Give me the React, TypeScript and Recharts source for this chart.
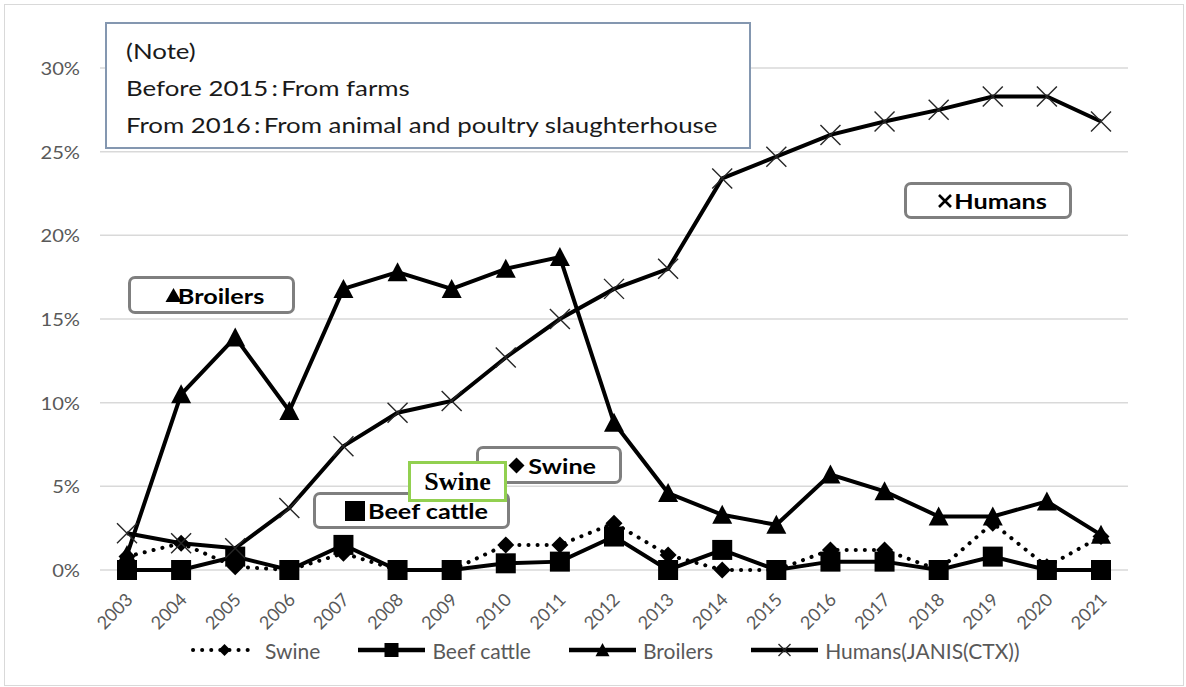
import { CartesianGrid, Legend, Line, LineChart, XAxis, YAxis } from "recharts";

const years = [
  "2003", "2004", "2005", "2006", "2007", "2008", "2009", "2010", "2011", "2012",
  "2013", "2014", "2015", "2016", "2017", "2018", "2019", "2020", "2021",
];
const swine = [0.8, 1.6, 0.2, 0, 1.0, 0, 0, 1.5, 1.5, 2.8, 0.9, 0, 0, 1.2, 1.2, 0, 2.8, 0.2, 2.0];
const beefCattle = [0, 0, 0.8, 0, 1.5, 0, 0, 0.4, 0.5, 2.0, 0, 1.2, 0, 0.5, 0.5, 0, 0.8, 0, 0];
const broilers = [0.9, 10.5, 13.9, 9.5, 16.8, 17.8, 16.8, 18.0, 18.7, 8.8, 4.6, 3.3, 2.7, 5.7, 4.7, 3.2, 3.2, 4.1, 2.1];
const humans = [2.2, 1.6, 1.3, 3.7, 7.4, 9.4, 10.1, 12.7, 15.0, 16.8, 18.0, 23.4, 24.7, 26.0, 26.8, 27.5, 28.3, 28.3, 26.8];
const yTicks = [0, 5, 10, 15, 20, 25, 30];
const noteLines = ["(Note)", "Before 2015\u2009:\u2009From farms", "From 2016\u2009:\u2009From animal and poultry slaughterhouse"];

const data = years.map((year, i) => ({
  year,
  swine: swine[i],
  beefCattle: beefCattle[i],
  broilers: broilers[i],
  humans: humans[i],
}));

const FONT = "Lato, 'Open Sans', sans-serif";
const GRAY = "#595959";

// marker shapes (prop names kept clear of the ones recharts passes to dots)
const Diamond = ({ cx, cy, size = 8 }: any) =>
  cx == null ? null : (
    <path d={`M${cx},${cy - size}L${cx + size},${cy}L${cx},${cy + size}L${cx - size},${cy}Z`} fill="#000" />
  );
const Square = ({ cx, cy, size = 10 }: any) =>
  cx == null ? null : <rect x={cx - size} y={cy - size} width={size * 2} height={size * 2} fill="#000" />;
const Triangle = ({ cx, cy, size = 10 }: any) =>
  cx == null ? null : (
    <path d={`M${cx},${cy - size}L${cx + size},${cy + size * 0.9}L${cx - size},${cy + size * 0.9}Z`} fill="#000" />
  );
const Cross = ({ cx, cy, size = 10, ink = "#262626", thick = 1.4 }: any) =>
  cx == null ? null : (
    <path
      d={`M${cx - size},${cy - size}L${cx + size},${cy + size}M${cx - size},${cy + size}L${cx + size},${cy - size}`}
      stroke={ink}
      strokeWidth={thick}
      fill="none"
    />
  );

const YearTick = ({ x, y, payload }: any) => (
  <g transform={`translate(${x + 2},${y + 18}) rotate(-45)`}>
    <text textAnchor="end" dominantBaseline="central" fill={GRAY} fontSize={18} fontFamily={FONT}>
      {payload.value}
    </text>
  </g>
);

const ValueTick = ({ x, y, payload }: any) => (
  <g transform={`translate(${x},${y}) scale(1.12,1)`}>
    <text textAnchor="end" dominantBaseline="central" fill={GRAY} fontSize={18} fontFamily={FONT}>
      {`${payload.value}%`}
    </text>
  </g>
);

const legendItems = [
  { name: "Swine", dashed: true, Marker: Diamond, size: 6 },
  { name: "Beef cattle", dashed: false, Marker: Square, size: 7 },
  { name: "Broilers", dashed: false, Marker: Triangle, size: 7 },
  { name: "Humans(JANIS(CTX))", dashed: false, Marker: Cross, size: 6 },
];

const LegendContent = () => (
  <div style={{ display: "flex", alignItems: "center", gap: 38, height: 30, paddingLeft: 151 }}>
    {legendItems.map(({ name, dashed, Marker, size }) => (
      <div key={name} style={{ display: "flex", alignItems: "center", gap: 7 }}>
        <svg width={67} height={20} style={{ display: "block" }}>
          <line
            x1={dashed ? 2 : 0}
            y1={10}
            x2={dashed ? 65 : 67}
            y2={10}
            stroke="#000"
            strokeWidth={dashed ? 4 : 4.5}
            strokeLinecap="round"
            strokeDasharray={dashed ? "0.1 9" : undefined}
          />
          <Marker cx={33.5} cy={10} size={size} />
        </svg>
        <span style={{ fontFamily: FONT, fontSize: 21, color: GRAY, whiteSpace: "nowrap" }}>{name}</span>
      </div>
    ))}
  </div>
);

const boxStyle = (left: number, top: number, width: number, height: number): React.CSSProperties => ({
  position: "absolute",
  left,
  top,
  width,
  height,
  boxSizing: "border-box",
  border: "3px solid #7f7f7f",
  borderRadius: 7,
  background: "#fff",
  display: "flex",
  alignItems: "center",
  justifyContent: "center",
  fontFamily: FONT,
  fontWeight: 700,
  fontSize: 21,
  color: "#000",
});

const wide: React.CSSProperties = { display: "inline-block", transform: "scaleX(1.2)", whiteSpace: "nowrap" };

const Sym = ({ children, w = 18, h = 18 }: any) => (
  <svg width={w} height={h} style={{ display: "block", marginRight: 3 }}>
    {children}
  </svg>
);

export default function App() {
  return (
    <div style={{ position: "absolute", left: 0, top: 0, width: 1186, height: 687, background: "#fff" }}>
      <div
        style={{
          position: "absolute",
          left: 4,
          top: 4,
          width: 1180,
          height: 682,
          boxSizing: "border-box",
          border: "1.5px solid #d9d9d9",
        }}
      />
      <LineChart width={1186} height={687} data={data} margin={{ top: 68, right: 58, bottom: 22, left: 40 }}>
        <CartesianGrid vertical={false} stroke="#d9d9d9" strokeWidth={1.5} />
        <XAxis
          dataKey="year"
          height={65}
          axisLine={false}
          tickLine={false}
          interval={0}
          padding={{ left: 27, right: 27 }}
          tick={<YearTick />}
        />
        <YAxis
          width={60}
          domain={[0, 30]}
          ticks={yTicks}
          axisLine={false}
          tickLine={false}
          tickSize={0}
          tickMargin={20}
          tick={<ValueTick />}
        />
        <Legend verticalAlign="bottom" height={30} content={<LegendContent />} />
        <Line
          dataKey="swine"
          stroke="#000"
          strokeWidth={4}
          strokeLinecap="round"
          strokeDasharray="0.1 9"
          dot={<Diamond size={8.5} />}
          isAnimationActive={false}
        />
        <Line dataKey="beefCattle" stroke="#000" strokeWidth={4} dot={<Square size={10} />} isAnimationActive={false} />
        <Line dataKey="broilers" stroke="#000" strokeWidth={4} dot={<Triangle size={10} />} isAnimationActive={false} />
        <Line dataKey="humans" stroke="#000" strokeWidth={4} dot={<Cross size={10} />} isAnimationActive={false} />
      </LineChart>

      <div
        style={{
          position: "absolute",
          left: 105,
          top: 22,
          width: 646,
          height: 127,
          boxSizing: "border-box",
          border: "2px solid #8497b0",
          background: "#fff",
          padding: "8px 0 0 19px",
          fontFamily: FONT,
          fontSize: 21,
          lineHeight: "37px",
          color: "#1a1a1a",
        }}
      >
        {noteLines.map((t) => (
          <div key={t} style={{ transform: "scaleX(1.23)", transformOrigin: "left", whiteSpace: "nowrap" }}>
            {t}
          </div>
        ))}
      </div>

      <div style={boxStyle(128, 276, 167, 38)}>
        <Sym w={17} h={16}>
          <path d="M8.5,1L16.5,15L0.5,15Z" fill="#000" />
        </Sym>
        <span style={wide}>Broilers</span>
      </div>
      <div style={boxStyle(904, 182, 168, 37)}>
        <Sym w={16} h={16}>
          <Cross cx={8} cy={8} size={6} ink="#000" thick={2.6} />
        </Sym>
        <span style={{ ...wide, marginLeft: 6 }}>Humans</span>
      </div>
      <div style={boxStyle(476, 446, 146, 38)}>
        <Sym w={17} h={17}>
          <Diamond cx={8.5} cy={8.5} size={8} />
        </Sym>
        <span style={{ ...wide, marginLeft: 6 }}>Swine</span>
      </div>
      <div style={boxStyle(313, 492, 197, 37)}>
        <Sym w={20} h={20}>
          <rect x={0} y={0} width={20} height={20} fill="#000" />
        </Sym>
        <span style={{ ...wide, marginLeft: 10 }}>Beef cattle</span>
      </div>
      <div
        style={{
          position: "absolute",
          left: 408,
          top: 461,
          width: 99,
          height: 41,
          boxSizing: "border-box",
          border: "3px solid #92d050",
          background: "#fff",
          display: "flex",
          alignItems: "center",
          justifyContent: "center",
          fontFamily: "'Liberation Serif', 'Times New Roman', serif",
          fontWeight: 700,
          fontSize: 26,
          color: "#000",
        }}
      >
        Swine
      </div>
    </div>
  );
}
